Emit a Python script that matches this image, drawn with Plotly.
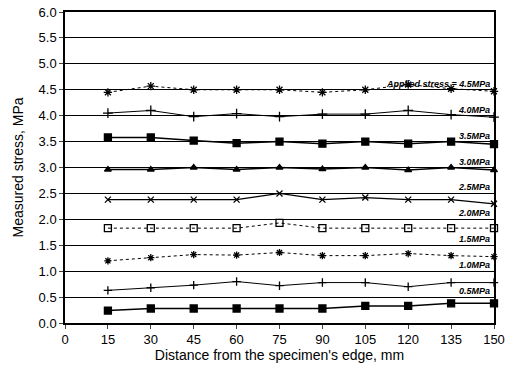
import plotly.graph_objects as go

distance = [15, 30, 45, 60, 75, 90, 105, 120, 135, 150]
applied = ["4.5", "4.0", "3.5", "3.0", "2.5", "2.0", "1.5", "1.0", "0.5"]
labels = ["Applied stress = 4.5MPa", "4.0MPa", "3.5MPa", "3.0MPa", "2.5MPa",
          "2.0MPa", "1.5MPa", "1.0MPa", "0.5MPa"]
s45 = [4.45, 4.57, 4.50, 4.50, 4.50, 4.45, 4.50, 4.60, 4.52, 4.47]
s40 = [4.05, 4.10, 3.98, 4.04, 3.98, 4.03, 4.03, 4.10, 4.02, 3.97]
s35 = [3.58, 3.58, 3.52, 3.47, 3.50, 3.46, 3.50, 3.46, 3.50, 3.45]
s30 = [2.96, 2.96, 3.00, 2.96, 3.00, 2.97, 3.00, 2.95, 3.00, 2.95]
s25 = [2.38, 2.38, 2.38, 2.38, 2.50, 2.38, 2.42, 2.38, 2.38, 2.30]
s20 = [1.83, 1.83, 1.83, 1.83, 1.93, 1.83, 1.83, 1.83, 1.83, 1.83]
s15 = [1.20, 1.26, 1.32, 1.31, 1.36, 1.30, 1.30, 1.34, 1.30, 1.28]
s10 = [0.63, 0.68, 0.73, 0.80, 0.72, 0.78, 0.78, 0.70, 0.78, 0.78]
s05 = [0.24, 0.28, 0.28, 0.28, 0.28, 0.28, 0.33, 0.33, 0.38, 0.38]
series = [s45, s40, s35, s30, s25, s20, s15, s10, s05]
yticks = [0.0, 0.5, 1.0, 1.5, 2.0, 2.5, 3.0, 3.5, 4.0, 4.5, 5.0, 5.5, 6.0]
xticks = [0, 15, 30, 45, 60, 75, 90, 105, 120, 135, 150]

styles = [
    dict(symbol="asterisk-open", size=7, dash="dot", width=1),
    dict(symbol="cross-thin-open", size=7, dash="solid", width=1),
    dict(symbol="square", size=7, dash="solid", width=1.5),
    dict(symbol="triangle-up", size=6, dash="solid", width=1.5),
    dict(symbol="x-thin-open", size=6, dash="solid", width=1.2),
    dict(symbol="square-open", size=7, dash="dot", width=1),
    dict(symbol="asterisk-open", size=6, dash="dot", width=1),
    dict(symbol="cross-thin-open", size=6, dash="solid", width=1),
    dict(symbol="square", size=7, dash="solid", width=1.5),
]

fig = go.Figure()
for vals, st in zip(series, styles):
    fig.add_trace(go.Scatter(
        x=distance, y=vals, mode="lines+markers",
        line=dict(color="black", width=st["width"], dash=st["dash"]),
        marker=dict(symbol=st["symbol"], size=st["size"], color="black",
                    line=dict(color="black", width=1.3)),
        showlegend=False, cliponaxis=False))

for a, lab in zip(applied, labels):
    fig.add_annotation(x=150, y=float(a), text="<b><i>" + lab + "</i></b>",
                       xanchor="right", yanchor="bottom", showarrow=False,
                       xshift=-2, yshift=-1,
                       font=dict(family="Liberation Sans", size=9, color="black"))

fig.update_layout(
    width=507, height=367,
    margin=dict(l=65, r=13, t=12, b=44, autoexpand=False),
    paper_bgcolor="white", plot_bgcolor="white",
    font=dict(family="Liberation Sans", size=13, color="black"),
)
fig.update_xaxes(range=[0, 150], tickvals=xticks, ticks="outside", ticklen=4,
                 automargin=False,
                 showgrid=False, showline=True, linecolor="black", linewidth=1.5,
                 mirror=True, zeroline=False,
                 title=dict(text="Distance from the specimen's edge, mm", standoff=2,
                            font=dict(size=14)))
fig.update_yaxes(range=[0, 6], tickvals=yticks, tickformat=".1f", ticks="outside",
                 ticklen=4, showgrid=True, gridcolor="black", gridwidth=1,
                 automargin=False,
                 showline=True, linecolor="black", linewidth=1.5, mirror=True,
                 zeroline=False,
                 title=dict(text="Measured stress, MPa", standoff=12, font=dict(size=14)))

fig.write_html("out.html")
